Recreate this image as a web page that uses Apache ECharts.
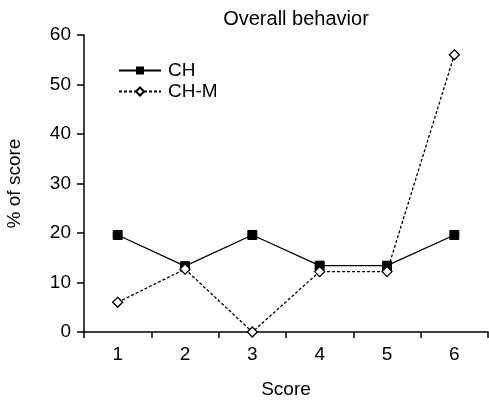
<!DOCTYPE html>
<html><head><meta charset="utf-8">
<script src="https://cdn.jsdelivr.net/npm/echarts@6/dist/echarts.min.js"></script>
<style>html,body{margin:0;padding:0;background:#fff}#c{width:489px;height:401px}</style>
</head><body><div id="c"></div>
<script>
const categories = ['1','2','3','4','5','6'];
const chValues = [19.6, 13.3, 19.6, 13.4, 13.4, 19.6];
const chmValues = [6.0, 12.7, 0, 12.2, 12.2, 56.0];
const yTicks = [0, 10, 20, 30, 40, 50, 60];

const FONT = 'Liberation Sans';
const chart = echarts.init(document.getElementById('c'), null, {renderer:'canvas'});
chart.setOption({
  animation: false,
  backgroundColor: '#fff',
  textStyle: {fontFamily: FONT, color: '#000'},
  title: {
    text: 'Overall behavior', left: 291, top: 4, textAlign: 'center',
    textStyle: {fontFamily: FONT, fontSize: 20, fontWeight: 'normal', color: '#000'}
  },
  legend: {
    left: 113, top: 56, orient: 'vertical', itemWidth: 42, itemHeight: 10, itemGap: 2,
    textStyle: {fontFamily: FONT, fontSize: 19, color: '#000', padding: [0,0,0,2]},
    data: ['CH', 'CH-M']
  },
  grid: {left: 84, right: 1, top: 35, bottom: 69, containLabel: false, outerBoundsMode: 'none'},
  xAxis: {
    type: 'category', data: categories, boundaryGap: true,
    name: 'Score', nameLocation: 'middle', nameGap: 48,
    nameTextStyle: {fontFamily: FONT, fontSize: 19, color: '#000'},
    axisLine: {lineStyle: {color: '#000', width: 1.5}},
    axisTick: {show: true, length: 6, lineStyle: {color: '#000', width: 1.5}},
    axisLabel: {fontFamily: FONT, fontSize: 19, color: '#000', margin: 13}
  },
  yAxis: {
    type: 'value', min: yTicks[0], max: yTicks[yTicks.length-1], interval: 10,
    name: '% of score', nameLocation: 'middle', nameGap: 60, nameRotate: 90,
    nameTextStyle: {fontFamily: FONT, fontSize: 19, color: '#000'},
    splitLine: {show: false},
    axisLine: {show: true, lineStyle: {color: '#000', width: 1.5}},
    axisTick: {show: true, length: 7, lineStyle: {color: '#000', width: 1.5}},
    axisLabel: {fontFamily: FONT, fontSize: 19, color: '#000', margin: 13}
  },
  series: [
    {
      name: 'CH', type: 'line', data: chValues,
      symbol: 'rect', symbolSize: 9, showAllSymbol: true,
      lineStyle: {color: '#000', width: 1.3, type: 'solid'},
      itemStyle: {color: '#000', borderColor: '#000'}
    },
    {
      name: 'CH-M', type: 'line', data: chmValues,
      symbol: 'diamond', symbolSize: 10, showAllSymbol: true,
      lineStyle: {color: '#000', width: 1.3, type: [3, 2]},
      itemStyle: {color: '#fff', borderColor: '#000', borderWidth: 1.3}
    }
  ]
});
</script></body></html>
